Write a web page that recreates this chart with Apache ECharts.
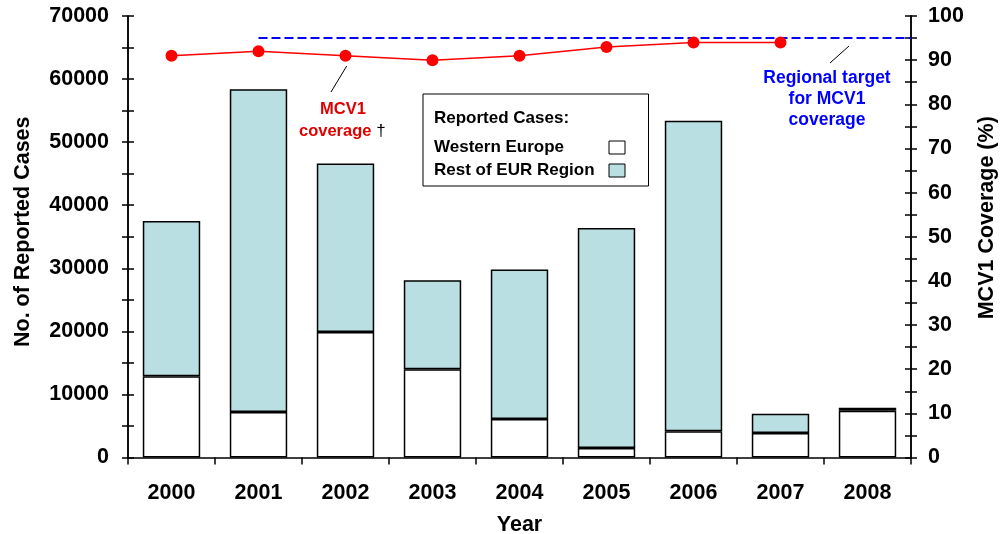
<!DOCTYPE html>
<html>
<head>
<meta charset="utf-8">
<script src="https://cdn.jsdelivr.net/npm/echarts@6/dist/echarts.min.js"></script>
<style>html,body{margin:0;padding:0;background:#fff;overflow:hidden;}#c{width:1000px;height:534px;}</style>
</head>
<body>
<div id="c"></div>
<script>
const years = ['2000','2001','2002','2003','2004','2005','2006','2007','2008'];
const westernEurope = [12900, 7200, 19900, 14000, 6100, 1500, 4150, 3900, 7400];
const restOfEUR = [24600, 51200, 26700, 14100, 23700, 34900, 49250, 3050, 500];
const mcv1Coverage = [91, 92, 91, 90, 91, 93, 94, 94, null];
const regionalTarget = 95;
const targetStartIndex = 1.5; // from 2001 centre to right edge
const targetEndIndex = 9;

const FONT = '"Liberation Sans", Arial, sans-serif';
const TICK_FS = 21.5;
const NAME_FS = 21.5;
const chart = echarts.init(document.getElementById('c'), null, {renderer: 'canvas'});

const leftAxisBase = {
  type: 'value', min: 0, max: 70000, interval: 10000,
  axisLine: {show: true, lineStyle: {color: '#000', width: 1.5}},
  splitLine: {show: false},
  minorTick: {show: true, splitNumber: 2, length: 6, lineStyle: {color: '#000', width: 1.5}},
  axisTick: {show: true, length: 6, lineStyle: {color: '#000', width: 1.5}}
};
const rightAxisBase = {
  type: 'value', min: 0, max: 100, interval: 10,
  axisLine: {show: true, lineStyle: {color: '#000', width: 1.5}},
  splitLine: {show: false},
  minorTick: {show: true, splitNumber: 2, length: 6, lineStyle: {color: '#000', width: 1.5}},
  axisTick: {show: true, length: 6, lineStyle: {color: '#000', width: 1.5}}
};

const option = {
  animation: false,
  backgroundColor: '#fff',
  grid: {left: 128, right: 89, top: 16, bottom: 76.5, containLabel: false, outerBoundsMode: 'none'},
  xAxis: [{
    type: 'category', data: years,
    name: 'Year', nameLocation: 'middle', nameGap: 57,
    nameTextStyle: {fontFamily: FONT, fontWeight: 'bold', fontSize: NAME_FS, color: '#000'},
    axisLine: {lineStyle: {color: '#000', width: 1.5}},
    axisTick: {show: true, length: 7, lineStyle: {color: '#000', width: 1.5}},
    axisLabel: {fontFamily: FONT, fontWeight: 'bold', fontSize: TICK_FS, color: '#000', margin: 25}
  }, {
    type: 'value', min: 0, max: 9, show: false
  }],
  yAxis: [
    Object.assign({}, leftAxisBase, {
      position: 'left',
      name: 'No. of Reported Cases', nameLocation: 'middle', nameGap: 94, nameRotate: 90,
      nameTextStyle: {fontFamily: FONT, fontWeight: 'bold', fontSize: NAME_FS, color: '#000', padding: [0, 0, 0, 10]},
      axisLabel: {fontFamily: FONT, fontWeight: 'bold', fontSize: TICK_FS, color: '#000', margin: 19,
        formatter: function (v) { return String(v); }}
    }),
    Object.assign({}, rightAxisBase, {
      position: 'right',
      name: 'MCV1 Coverage (%)', nameLocation: 'middle', nameGap: 65, nameRotate: 90,
      nameTextStyle: {fontFamily: FONT, fontWeight: 'bold', fontSize: NAME_FS, color: '#000', padding: [0, 0, 0, 38]},
      axisLabel: {fontFamily: FONT, fontWeight: 'bold', fontSize: TICK_FS, color: '#000', margin: 17}
    }),
    Object.assign({}, leftAxisBase, {
      position: 'left', axisLabel: {show: false},
      axisTick: Object.assign({}, leftAxisBase.axisTick, {inside: true}),
      minorTick: Object.assign({}, leftAxisBase.minorTick)
    }),
    Object.assign({}, rightAxisBase, {
      position: 'right', axisLabel: {show: false},
      axisTick: Object.assign({}, rightAxisBase.axisTick, {inside: true}),
      minorTick: Object.assign({}, rightAxisBase.minorTick)
    })
  ],
  legend: {
    show: true, selectedMode: false, orient: 'vertical',
    left: 423, top: 94,
    align: 'right',
    padding: [45, 23, 7, 11],
    itemGap: 6, itemWidth: 16, itemHeight: 13,
    borderColor: '#000', borderWidth: 1,
    formatter: function (name) { return '{a|' + name + '}'; },
    textStyle: {
      fontFamily: FONT, fontWeight: 'bold', fontSize: 17, color: '#000', lineHeight: 17,
      rich: {a: {width: 170, align: 'left', fontFamily: FONT, fontWeight: 'bold', fontSize: 17, color: '#000', lineHeight: 17}}
    },
    data: [
      {name: 'Western Europe', icon: 'rect', itemStyle: {color: '#fff', borderColor: '#000', borderWidth: 1}},
      {name: 'Rest of EUR Region', icon: 'rect', itemStyle: {color: '#b9dfe2', borderColor: '#000', borderWidth: 1}}
    ]
  },
  series: [
    {
      name: 'Western Europe', type: 'bar', stack: 'cases', barWidth: '66%',
      itemStyle: {color: '#fff', borderColor: '#000', borderWidth: 1.5},
      data: westernEurope
    },
    {
      name: 'Rest of EUR Region', type: 'bar', stack: 'cases', barWidth: '66%',
      itemStyle: {color: '#b9dfe2', borderColor: '#000', borderWidth: 1.5},
      data: restOfEUR
    },
    {
      name: 'MCV1 coverage', type: 'line', yAxisIndex: 1,
      symbol: 'circle', symbolSize: 12,
      itemStyle: {color: '#ff0000'},
      lineStyle: {color: '#ff0000', width: 1.5},
      data: mcv1Coverage
    },
    {
      name: 'Regional target', type: 'line', xAxisIndex: 1, yAxisIndex: 1,
      symbol: 'none',
      lineStyle: {color: '#0000ff', width: 2, type: [9, 4]},
      data: [[targetStartIndex, regionalTarget], [targetEndIndex, regionalTarget]]
    }
  ],
  graphic: [
    {type: 'text', x: 434, y: 118, style: {text: 'Reported Cases:', font: 'bold 17px ' + FONT, fill: '#000', verticalAlign: 'middle'}},
    {type: 'text', x: 343, y: 109, style: {text: 'MCV1', font: 'bold 16.5px ' + FONT, fill: '#e00000', align: 'center', verticalAlign: 'middle'}},
    {type: 'text', x: 299, y: 131, style: {
      text: '{r|coverage}{k| †}', align: 'left', verticalAlign: 'middle',
      rich: {r: {font: 'bold 16.5px ' + FONT, fill: '#e00000', color: '#e00000'}, k: {font: '17px ' + FONT, color: '#000', fill: '#000'}}
    }},
    {type: 'line', shape: {x1: 346.7, y1: 66, x2: 331, y2: 92}, style: {stroke: '#000', lineWidth: 1}},
    {type: 'text', x: 827, y: 78, style: {text: 'Regional target', font: 'bold 17.5px ' + FONT, fill: '#0000ff', align: 'center', verticalAlign: 'middle'}},
    {type: 'text', x: 827, y: 99, style: {text: 'for MCV1', font: 'bold 17.5px ' + FONT, fill: '#0000ff', align: 'center', verticalAlign: 'middle'}},
    {type: 'text', x: 827, y: 120, style: {text: 'coverage', font: 'bold 17.5px ' + FONT, fill: '#0000ff', align: 'center', verticalAlign: 'middle'}},
    {type: 'line', shape: {x1: 849, y1: 46, x2: 830, y2: 63}, style: {stroke: '#000', lineWidth: 1}}
  ]
};
chart.setOption(option);
</script>
</body>
</html>
